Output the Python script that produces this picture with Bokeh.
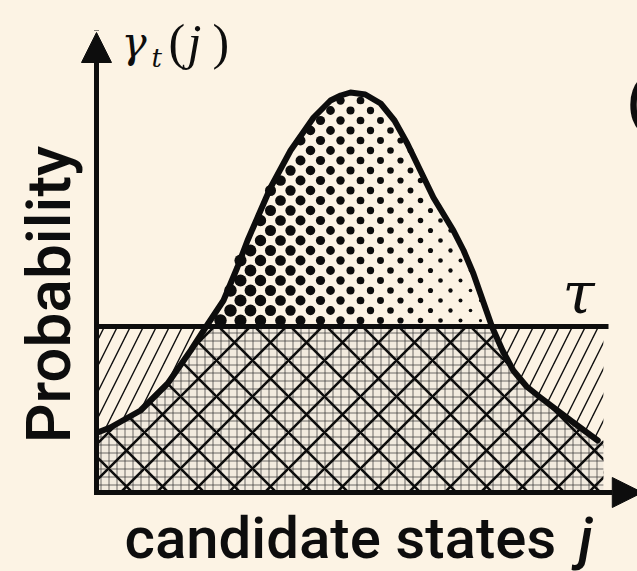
import numpy as np
from bokeh.plotting import figure
from bokeh.models import Range1d, Arrow, NormalHead, Label, GlobalInlineStyleSheet
from bokeh.embed import file_html
from bokeh.resources import INLINE

# ---- data ----
states = [0.02, 0.27, 0.86, 1.39, 1.84, 2.13, 2.48, 2.75, 2.95, 3.40, 3.79, 4.24,
          4.57, 4.77, 4.96, 5.25, 5.55, 5.82, 6.07, 6.58, 6.97, 7.17, 7.36, 7.73,
          7.93, 8.14, 8.40, 8.67, 9.26, 9.79]
gamma = [0.150, 0.1625, 0.205, 0.2725, 0.355, 0.4125, 0.48, 0.5625, 0.63, 0.7625,
         0.855, 0.9375, 0.98, 0.9925, 1.0, 0.995, 0.9725, 0.93, 0.8725, 0.7375,
         0.655, 0.605, 0.5475, 0.4125, 0.355, 0.305, 0.265, 0.2375, 0.18, 0.13]
tau = 0.415
band_right = 9.9
tau_line_right = 10.0
y_axis_top = 1.15
x_axis_right = 10.66

x_label = "candidate states"
x_label_var = "j"
y_label = "Probability"
threshold_label = "τ"

BG = "#fcf3e4"
INK = "#0d0d0d"
SANS = "'Roboto Medium', Roboto"

# pixel <-> data helpers (layout only)
PXX, PXY = 51.2, 400.0
def X(px):
    return (px - 96) / PXX
def Y(py):
    return (492 - py) / PXY

W, H = 637, 571
p = figure(width=W, height=H, min_border=0, toolbar_location=None,
           output_backend="svg", x_axis_location=None, y_axis_location=None,
           x_range=Range1d(X(0), X(W)), y_range=Range1d(Y(H), Y(0)))
p.grid.visible = False
p.outline_line_color = None
p.background_fill_color = BG
p.border_fill_color = BG
p.stylesheets = [GlobalInlineStyleSheet(css=f"html,body{{margin:0;padding:0;overflow:hidden;background:{BG};}}")]

xs = np.array(states)
ys = np.array(gamma)

# split the curve at tau
bx, by = [], []
for i in range(len(xs)):
    if i > 0 and (ys[i - 1] - tau) * (ys[i] - tau) < 0:
        f = (tau - ys[i - 1]) / (ys[i] - ys[i - 1])
        xc = xs[i - 1] + f * (xs[i] - xs[i - 1])
        bx.append(xc); by.append(tau)
    bx.append(xs[i]); by.append(min(ys[i], tau))

# band with "/" hatch
p.quad(left=0, right=band_right, bottom=0, top=tau, fill_color=BG, line_color=None,
       hatch_pattern="/", hatch_scale=26, hatch_weight=1.4, hatch_color=INK)

under_x = [0] + bx + [band_right, band_right, 0]
under_y = [by[0]] + by + [by[-1], 0, 0]
p.patch(under_x, under_y, fill_color="#f2ebdf", line_color=None,
        hatch_pattern="+", hatch_scale=8, hatch_weight=0.9, hatch_color="#333333", hatch_alpha=0.8)
p.patch(under_x, under_y, fill_alpha=0, line_color=None,
        hatch_pattern="x", hatch_scale=36, hatch_weight=2.6, hatch_color=INK)

# halftone dots above tau under the curve
dx, dy, ds = [], [], []
for r, py in enumerate(np.arange(492 - tau * PXY - 6, 90, -10)):
    off = 0 if r % 2 == 0 else 10
    for px in np.arange(180 + off, 520, 20):
        xd, yd = X(px), Y(py)
        if yd < np.interp(xd, xs, ys) and yd > tau:
            dx.append(xd); dy.append(yd)
            ds.append(float(np.clip(12.5 - 0.037 * (px - 230), 1.5, 12.5)))
p.scatter(dx, dy, size=ds, marker="circle", fill_color=INK, line_color=None)

# threshold line and curve
p.line([0, tau_line_right], [tau, tau], line_width=5, line_color=INK)
p.line(states, gamma, line_width=6, line_color=INK, line_join="round", line_cap="round")

# axes with arrows
p.add_layout(Arrow(end=NormalHead(size=30, fill_color=INK, line_color=INK, line_width=1),
                   x_start=0, y_start=0, x_end=0, y_end=y_axis_top,
                   line_width=5, line_color=INK, line_cap="square"))
p.add_layout(Arrow(end=NormalHead(size=30, fill_color=INK, line_color=INK, line_width=1),
                   x_start=0, y_start=0, x_end=x_axis_right, y_end=0,
                   line_width=5, line_color=INK, line_cap="square"))

# texts (alphabetic anchors compensated empirically)
def lab(px, py_base, text, size, font, style="normal", em_off=0.0, **kw):
    p.add_layout(Label(x=X(px), y=Y(py_base - em_off * size), text=text, text_font=font,
                       text_font_style=style, text_font_size=f"{size}px", text_color=INK,
                       text_baseline="alphabetic", **kw))

lab(121, 55, "γ", 42, "DejaVu Serif", "italic", 0.31)
lab(151, 66, "t", 26, "DejaVu Serif", "italic", 0.31)
lab(168, 57, "(", 50, "Liberation Serif", "normal", 0.31)
lab(187, 57, "j", 50, "Liberation Serif", "italic", 0.31)
lab(212, 57, ")", 50, "Liberation Serif", "normal", 0.31)
lab(562, 310, threshold_label, 58, "DejaVu Serif", "italic", 0.31)
lab(626, 126, "(", 60, SANS, "normal", 0.41)

p.add_layout(Label(x=X(73 - 0.41 * 62), y=Y(294), text=y_label, angle=np.pi / 2, text_font=SANS,
                   text_font_size="62px", text_color=INK, text_align="center",
                   text_baseline="alphabetic"))
lab(124, 561, x_label, 58, SANS, "normal", 0.41)
lab(578, 561, x_label_var, 58, SANS, "italic", 0.41)

open("out.html", "w").write(file_html(p, INLINE))
